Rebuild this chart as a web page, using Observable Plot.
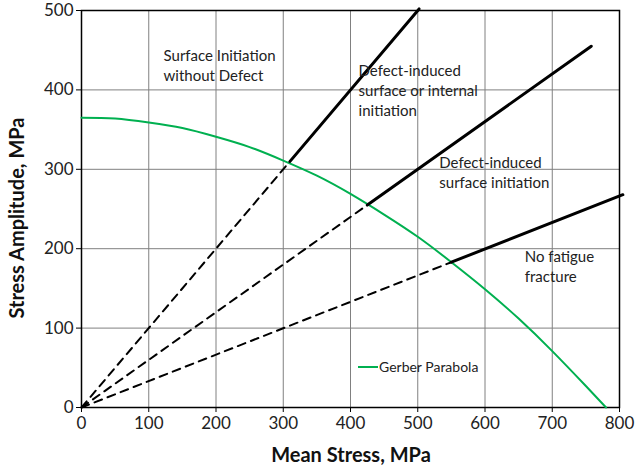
<!DOCTYPE html>
<html><head><meta charset="utf-8">
<script src="https://cdn.jsdelivr.net/npm/d3@7"></script>
<script src="https://cdn.jsdelivr.net/npm/@observablehq/plot@0.6"></script>
<style>
body{margin:0;background:#fff;font-family:Lato,sans-serif;}
#wrap{position:relative;width:635px;height:471px;}
#legend{position:absolute;left:358px;top:358px;font:14px Lato,sans-serif;color:#222;display:flex;align-items:center;white-space:nowrap;}
#legend span.sw{display:inline-block;width:20px;height:2px;background:#00b050;margin-right:1px;}
</style></head>
<body><div id="wrap"><div id="legend"><span class="sw"></span>Gerber Parabola</div></div>
<script>
// Gerber parabola
const gerberSm = [0,50,100,150,200,250,300,350,400,450,500,550,600,650,700,750,780];
const gerberSa = [365,364,359,352,341,328,311,292,269,243,215,183,149,112,71,27,0];
// Boundary rays: dashed part (origin to Gerber) and solid part
const ray1Dashed = {sm:[0,310], sa:[0,310]};
const ray1Solid  = {sm:[310,502], sa:[310,502]};
const ray2Dashed = {sm:[0,425], sa:[0,255]};
const ray2Solid  = {sm:[425,758], sa:[255,455]};
const ray3Dashed = {sm:[0,550], sa:[0,183]};
const ray3Solid  = {sm:[550,805], sa:[183,268]};
// Region labels
const labelText = ["Surface Initiation\nwithout Defect","Defect-induced\nsurface or internal\ninitiation","Defect-induced\nsurface initiation","No fatigue\nfracture"];
const labelSm = [122,412,532,659];
const labelSa = [432,400,297,179];
const ticks = [0,100,200,300,400,500,600,700,800];
const yTicks = [0,100,200,300,400,500];

const pts = (a,b)=>a.map((v,i)=>({x:v,y:b[i]}));
const gerber = pts(gerberSm,gerberSa);
const dashed = [ray1Dashed,ray2Dashed,ray3Dashed].map(r=>pts(r.sm,r.sa));
const solid = [ray1Solid,ray2Solid,ray3Solid].map(r=>pts(r.sm,r.sa));
const labels = labelText.map((t,i)=>({t,x:labelSm[i],y:labelSa[i]}));

const chart = Plot.plot({
  width:635, height:471,
  marginLeft:81, marginRight:16, marginTop:10, marginBottom:64,
  style:{fontFamily:"Lato, sans-serif", background:"#fff", overflow:"visible"},
  x:{domain:[0,800], ticks:ticks, label:null},
  y:{domain:[0,500], ticks:yTicks, label:null},
  marks:[
    Plot.gridX(ticks,{stroke:"#808080",strokeOpacity:1,strokeWidth:1}),
    Plot.gridY(yTicks,{stroke:"#808080",strokeOpacity:1,strokeWidth:1}),
    Plot.frame({stroke:"#000",strokeWidth:1.5}),
    Plot.axisX(ticks,{tickSize:5,tickPadding:4,fontSize:17,fill:"#222",stroke:"#000",label:null}),
    Plot.axisY(yTicks,{tickSize:5,tickPadding:3,fontSize:17,fill:"#222",stroke:"#000",label:null}),
    Plot.line(gerber,{x:"x",y:"y",stroke:"#00b050",strokeWidth:2,curve:"natural"}),
    ...dashed.map(d=>Plot.line(d,{x:"x",y:"y",stroke:"#000",strokeWidth:2,strokeDasharray:"8,6",clip:false})),
    ...solid.map(d=>Plot.line(d,{x:"x",y:"y",stroke:"#000",strokeWidth:3,clip:false})),
    Plot.text(labels,{x:"x",y:"y",text:"t",textAnchor:"start",lineAnchor:"middle",lineHeight:1.33,fontSize:15,fill:"#222"})
  ]
});
const wrap = document.getElementById("wrap");
wrap.insertBefore(chart, wrap.firstChild);
const svg = d3.select(chart);
svg.append("text").attr("x",351).attr("y",462).attr("text-anchor","middle")
  .attr("font-size",20).attr("font-weight","bold").attr("fill","#111").text("Mean Stress, MPa");
svg.append("text").attr("transform","translate(24,218) rotate(-90)").attr("text-anchor","middle")
  .attr("font-size",20).attr("font-weight","bold").attr("fill","#111").text("Stress Amplitude, MPa");
</script></body></html>
